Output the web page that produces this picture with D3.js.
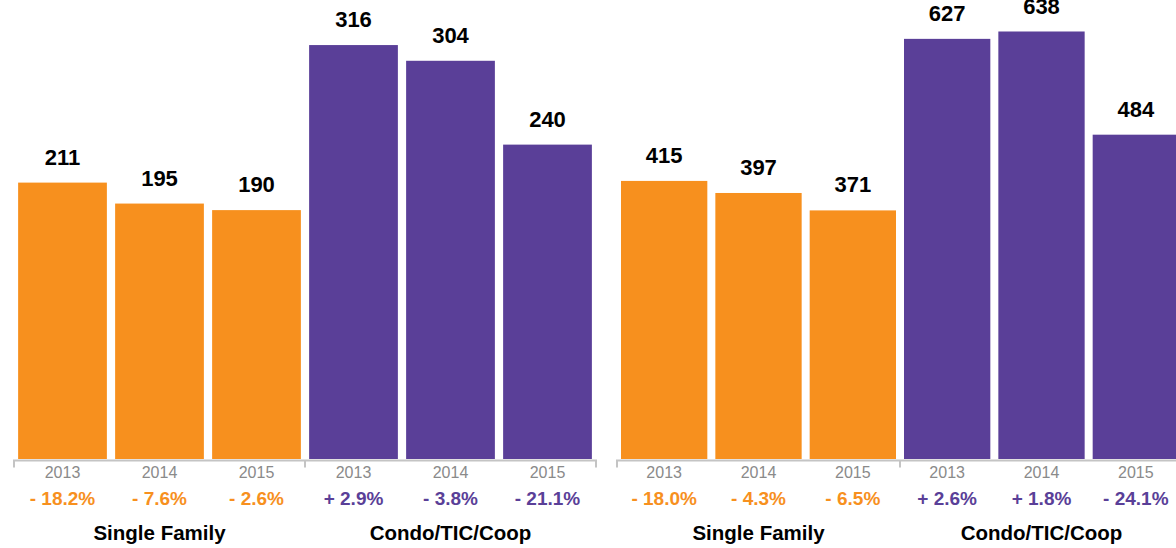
<!DOCTYPE html>
<meta charset="utf-8">
<style>
body { margin: 0; background: #fff; }
text { font-family: "Liberation Sans", Arial, Helvetica, sans-serif; }
.val { font-size: 22px; font-weight: bold; fill: #000; text-anchor: middle; }
.year { font-size: 16px; fill: #8a8a8a; text-anchor: middle; }
.pct { font-size: 19px; font-weight: bold; text-anchor: middle; }
.cat { font-size: 20.5px; font-weight: bold; fill: #000; text-anchor: middle; }
.bracket { fill: none; stroke: #c4c4c4; stroke-width: 2px; }
</style>
<body>
<script src="https://cdn.jsdelivr.net/npm/d3@7"></script>
<script>
// categories and years
var categories = ["Single Family", "Condo/TIC/Coop"];
var years = ["2013", "2014", "2015"];
var catColor = ["#F7901E", "#5A3F98"];

// left panel
var leftSF = [211, 195, 190];
var leftCondo = [316, 304, 240];
var leftSFPct = [-18.2, -7.6, -2.6];
var leftCondoPct = [2.9, -3.8, -21.1];

// right panel
var rightSF = [415, 397, 371];
var rightCondo = [627, 638, 484];
var rightSFPct = [-18.0, -4.3, -6.5];
var rightCondoPct = [2.6, 1.8, -24.1];

var W = 1176, H = 548, base = 459;

var svg = d3.select("body").append("svg").attr("width", W).attr("height", H);

var panels = [
  {x0: 14, x1: 596, yMax: 350.4, values: [leftSF, leftCondo], pcts: [leftSFPct, leftCondoPct]},
  {x0: 617, x1: 1183, yMax: 685, values: [rightSF, rightCondo], pcts: [rightSFPct, rightCondoPct]}
];

function fmtPct(p) {
  return (p < 0 ? "- " : "+ ") + d3.format(".1f")(Math.abs(p)) + "%";
}

panels.forEach(function(p) {
  var g = svg.append("g");
  var x0 = d3.scaleBand().domain(categories).range([p.x0, p.x1]).padding(0);
  var x1 = d3.scaleBand().domain(years).range([0, x0.bandwidth()])
    .paddingInner(0.085).paddingOuter(0.0425);
  var y = d3.scaleLinear().domain([0, p.yMax]).range([base, 0]);

  // bracket axis
  var ay = base + 1.5;
  var d = "M" + p.x0 + "," + (ay + 7) + "V" + ay + "H" + p.x1 + "V" + (ay + 7);
  categories.slice(1).forEach(function(c) {
    d += "M" + x0(c) + "," + ay + "V" + (ay + 7);
  });
  g.append("path").attr("class", "bracket").attr("d", d);

  categories.forEach(function(c, ci) {
    var cg = g.append("g").attr("transform", "translate(" + x0(c) + ",0)");
    var rows = years.map(function(yr, i) {
      return {year: yr, v: p.values[ci][i], pct: p.pcts[ci][i]};
    });

    cg.selectAll("rect").data(rows).enter().append("rect")
      .attr("x", d => x1(d.year))
      .attr("y", d => y(d.v))
      .attr("width", x1.bandwidth())
      .attr("height", d => base - y(d.v))
      .attr("fill", catColor[ci]);

    cg.selectAll(".val").data(rows).enter().append("text").attr("class", "val")
      .attr("x", d => x1(d.year) + x1.bandwidth() / 2)
      .attr("y", d => y(d.v) - 18)
      .text(d => d.v);

    cg.selectAll(".year").data(rows).enter().append("text").attr("class", "year")
      .attr("x", d => x1(d.year) + x1.bandwidth() / 2)
      .attr("y", 478)
      .text(d => d.year);

    cg.selectAll(".pct").data(rows).enter().append("text").attr("class", "pct")
      .attr("x", d => x1(d.year) + x1.bandwidth() / 2)
      .attr("y", 505)
      .attr("fill", catColor[ci])
      .text(d => fmtPct(d.pct));

    cg.append("text").attr("class", "cat")
      .attr("x", x0.bandwidth() / 2)
      .attr("y", 540)
      .text(c);
  });
});
</script>
</body>
</html>
